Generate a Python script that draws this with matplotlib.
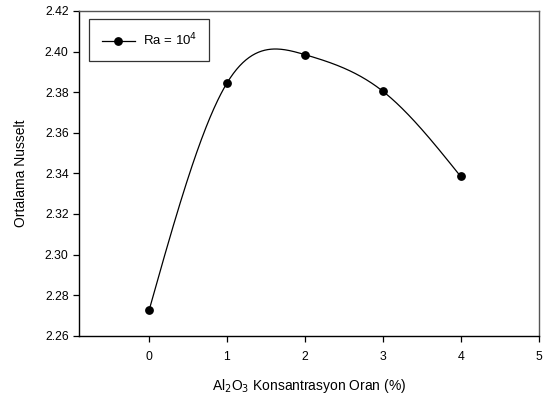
import numpy as np
import matplotlib.pyplot as plt
from matplotlib.ticker import MultipleLocator

plt.rcParams['font.family'] = ['Liberation Sans', 'DejaVu Sans']

# Al2O3 concentration (%) and mean Nusselt number at Ra = 1e4
conc = [0, 1, 2, 3, 4]
nusselt = [2.2725, 2.3845, 2.3985, 2.3805, 2.3385]


def natural_spline(x, y, xs):
    x = np.asarray(x, float)
    y = np.asarray(y, float)
    n = len(x)
    h = np.diff(x)
    A = np.zeros((n, n))
    b = np.zeros(n)
    A[0, 0] = A[-1, -1] = 1
    for i in range(1, n - 1):
        A[i, i - 1] = h[i - 1]
        A[i, i] = 2 * (h[i - 1] + h[i])
        A[i, i + 1] = h[i]
        b[i] = 6 * ((y[i + 1] - y[i]) / h[i] - (y[i] - y[i - 1]) / h[i - 1])
    M = np.linalg.solve(A, b)
    idx = np.clip(np.searchsorted(x, xs) - 1, 0, n - 2)
    x0, x1 = x[idx], x[idx + 1]
    hh = x1 - x0
    t0, t1 = x1 - xs, xs - x0
    return (M[idx] * t0**3 / (6 * hh) + M[idx + 1] * t1**3 / (6 * hh)
            + (y[idx] / hh - M[idx] * hh / 6) * t0
            + (y[idx + 1] / hh - M[idx + 1] * hh / 6) * t1)


xs = np.linspace(conc[0], conc[-1], 400)
ys = natural_spline(conc, nusselt, xs)

fig = plt.figure(figsize=(5.47, 4.0), dpi=100)
ax = fig.add_axes([0.1444, 0.1608, 0.8401, 0.8117])

ax.plot(xs, ys, color='black', linewidth=0.9)
ax.plot(conc, nusselt, linestyle='None', marker='o', markersize=5.3, color='black')

# legend proxy: line with marker
ax.plot([], [], color='black', linewidth=0.9, marker='o', markersize=5.3, label=r'Ra = 10$^4$')
leg = ax.legend(loc='upper left', fontsize=9.5, frameon=True, fancybox=False,
                edgecolor='black', handlelength=2.5, handletextpad=0.6, borderpad=0.95,
                bbox_to_anchor=(0.008, 0.995))
leg.get_frame().set_linewidth(0.9)

ax.set_xlim(-0.9, 5)
ax.set_ylim(2.26, 2.42)
ax.xaxis.set_major_locator(MultipleLocator(1))
ax.yaxis.set_major_locator(MultipleLocator(0.02))
ax.yaxis.set_major_formatter(plt.FormatStrFormatter('%.2f'))
ax.tick_params(direction='out', length=4, width=0.9, labelsize=8.8, colors='black')
ax.tick_params(axis='x', pad=7)

for side in ['left', 'bottom']:
    ax.spines[side].set_linewidth(1.0)
    ax.spines[side].set_color('black')
for side in ['top', 'right']:
    ax.spines[side].set_linewidth(1.0)
    ax.spines[side].set_color('#555555')

ax.set_xlabel(r'Al$_2$O$_3$ Konsantrasyon Oran (%)', fontsize=10, labelpad=10)
ax.set_ylabel('Ortalama Nusselt', fontsize=10, labelpad=12)

plt.savefig('out.png', dpi=100)
plt.close(fig)
